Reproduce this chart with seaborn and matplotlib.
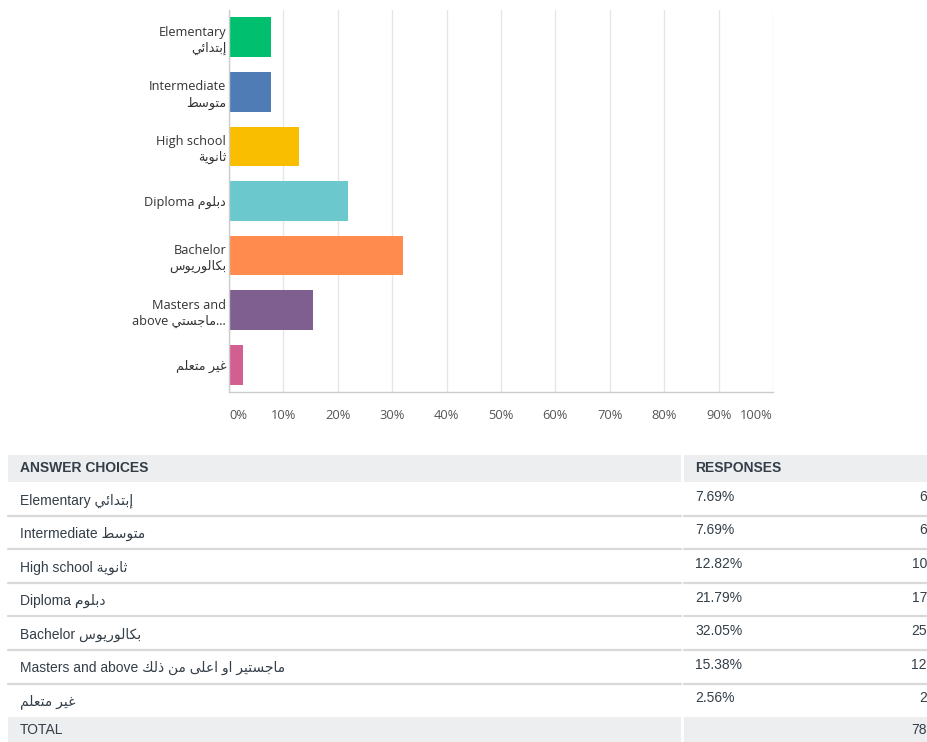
import re
import matplotlib
matplotlib.use("Agg")
import matplotlib.pyplot as plt
import seaborn as sns
import pandas as pd

# ---------------- data ----------------
categories = ["Elementary", "Intermediate", "High school", "Diploma",
              "Bachelor", "Masters and above", "Uneducated"]
chart_labels = ["Elementary\nإبتدائي", "Intermediate\nمتوسط", "High school\nثانوية",
                "Diploma دبلوم", "Bachelor\nبكالوريوس", "Masters and\nabove ماجستي...",
                "غير متعلم"]
table_labels = ["Elementary إبتدائي", "Intermediate متوسط", "High school ثانوية",
                "Diploma دبلوم", "Bachelor بكالوريوس",
                "Masters and above ماجستير او اعلى من ذلك", "غير متعلم"]
percent = [7.69, 7.69, 12.82, 21.79, 32.05, 15.38, 2.56]
counts = [6, 6, 10, 17, 25, 12, 2]
total = 78
xticks = [0, 10, 20, 30, 40, 50, 60, 70, 80, 90, 100]
colors = ["#00bf6f", "#507cb6", "#f9be00", "#6bc8cd", "#ff8b4f", "#7f5f90", "#d25f90"]

# ---------------- arabic shaping (no bidi lib available) ----------------
FORMS = {
    "ا": ("\uFE8D", "\uFE8E"), "إ": ("\uFE87", "\uFE88"),
    "ب": ("\uFE8F", "\uFE90", "\uFE91", "\uFE92"),
    "ت": ("\uFE95", "\uFE96", "\uFE97", "\uFE98"),
    "ث": ("\uFE99", "\uFE9A", "\uFE9B", "\uFE9C"),
    "ج": ("\uFE9D", "\uFE9E", "\uFE9F", "\uFEA0"),
    "د": ("\uFEA9", "\uFEAA"), "ذ": ("\uFEAB", "\uFEAC"),
    "ر": ("\uFEAD", "\uFEAE"),
    "س": ("\uFEB1", "\uFEB2", "\uFEB3", "\uFEB4"),
    "ط": ("\uFEC1", "\uFEC2", "\uFEC3", "\uFEC4"),
    "ع": ("\uFEC9", "\uFECA", "\uFECB", "\uFECC"),
    "غ": ("\uFECD", "\uFECE", "\uFECF", "\uFED0"),
    "ك": ("\uFED9", "\uFEDA", "\uFEDB", "\uFEDC"),
    "ل": ("\uFEDD", "\uFEDE", "\uFEDF", "\uFEE0"),
    "م": ("\uFEE1", "\uFEE2", "\uFEE3", "\uFEE4"),
    "ن": ("\uFEE5", "\uFEE6", "\uFEE7", "\uFEE8"),
    "و": ("\uFEED", "\uFEEE"),
    "ي": ("\uFEF1", "\uFEF2", "\uFEF3", "\uFEF4"),
    "ى": ("\uFEEF", "\uFEF0"), "ة": ("\uFE93", "\uFE94"),
    "ئ": ("\uFE89", "\uFE8A", "\uFE8B", "\uFE8C"),
}


def shape(run):
    out = []
    for i, c in enumerate(run):
        if c not in FORMS:
            out.append(c)
            continue
        f = FORMS[c]
        prev = run[i - 1] if i > 0 else None
        nxt = run[i + 1] if i + 1 < len(run) else None
        jp = prev in FORMS and len(FORMS[prev]) == 4
        jn = nxt in FORMS and len(f) == 4
        if jp and jn:
            out.append(f[3])
        elif jp:
            out.append(f[1])
        elif jn:
            out.append(f[2])
        else:
            out.append(f[0])
    return "".join(reversed(out))


def vis(text):
    lines = []
    for line in text.split("\n"):
        lines.append(re.sub(r"[\u0600-\u06FF]+(?: [\u0600-\u06FF]+)*",
                            lambda m: shape(m.group(0)), line))
    return "\n".join(lines)


sns.set_style("white")
plt.rcParams["font.family"] = ["Open Sans", "DejaVu Sans"]

df = pd.DataFrame({"category": categories, "percent": percent})

fig = plt.figure(figsize=(9.27, 7.42), dpi=100)
W, H = 927, 742

# ---------------- bar chart ----------------
ax = fig.add_axes([229 / W, 1 - 392 / H, 544 / W, 382 / H])
sns.barplot(data=df, x="percent", y="category", hue="category",
            palette=colors, legend=False, orient="h", width=0.73,
            saturation=1, linewidth=0, ax=ax)
ax.set_xlim(0, 100)
ax.set_ylim(6.5, -0.5)
ax.set_xlabel("")
ax.set_ylabel("")
ax.set_xticks(xticks)
ax.set_xticklabels([f"{t}%" for t in xticks], fontsize=9.3, color="#555555")
ticks = ax.get_xticklabels()
ticks[0].set_ha("left")
ticks[-1].set_ha("right")
ax.set_yticks(range(len(chart_labels)))
ax.set_yticklabels([vis(l) for l in chart_labels], fontsize=9.2,
                   color="#333333", linespacing=1.3)
ax.tick_params(axis="both", length=0)
ax.tick_params(axis="x", pad=12)
ax.tick_params(axis="y", pad=2)
ax.grid(axis="x", color="#e6e6e6", linewidth=1)
ax.set_axisbelow(True)
for s in ["top", "right"]:
    ax.spines[s].set_visible(False)
for s in ["left", "bottom"]:
    ax.spines[s].set_color("#cccccc")
    ax.spines[s].set_linewidth(1)

# ---------------- table ----------------
tb = fig.add_axes([0, 0, 1, 302 / H])
tb.set_xlim(0, W)
tb.set_ylim(H, 440)
tb.axis("off")

tfont = ["Liberation Sans", "DejaVu Sans"]
tcolor = "#333e48"
fs = 10
col_split = 682
header_top, header_bot = 455, 482
row_h = 33.6

tb.add_patch(plt.Rectangle((8, header_top), col_split - 9, header_bot - header_top,
                           color="#edeeef", lw=0))
tb.add_patch(plt.Rectangle((col_split + 2, header_top), W - col_split - 2,
                           header_bot - header_top, color="#edeeef", lw=0))
tb.text(20, (header_top + header_bot) / 2, "ANSWER CHOICES", family=tfont,
        fontsize=fs, fontweight="bold", color=tcolor, va="center")
tb.text(695, (header_top + header_bot) / 2, "RESPONSES", family=tfont,
        fontsize=fs, fontweight="bold", color=tcolor, va="center")

for i, (lab, p, n) in enumerate(zip(table_labels, percent, counts)):
    top = header_bot + i * row_h
    yc = top + row_h / 2
    tb.text(20, yc + 1.5, vis(lab), family=tfont, fontsize=fs, color=tcolor, va="center")
    tb.text(695, yc - 2, f"{p:.2f}%", family=tfont, fontsize=fs, color=tcolor, va="center")
    tb.text(W, yc - 2, str(n), family=tfont, fontsize=fs, color=tcolor,
            va="center", ha="right")
    bot = top + row_h
    if i < len(table_labels) - 1:
        tb.plot([8, col_split - 1], [bot, bot], color="#d9d9d9", lw=1.6)
        tb.plot([col_split + 2, W], [bot, bot], color="#d9d9d9", lw=1.6)

total_top = header_bot + len(table_labels) * row_h
tb.add_patch(plt.Rectangle((8, total_top), col_split - 9, H - total_top,
                           color="#edeeef", lw=0))
tb.add_patch(plt.Rectangle((col_split + 2, total_top), W - col_split - 2,
                           H - total_top, color="#edeeef", lw=0))
tb.text(20, (total_top + H) / 2, "TOTAL", family=tfont, fontsize=fs,
        color=tcolor, va="center")
tb.text(W, (total_top + H) / 2, str(total), family=tfont, fontsize=fs,
        color=tcolor, va="center", ha="right")

fig.savefig("out.png", dpi=100)
